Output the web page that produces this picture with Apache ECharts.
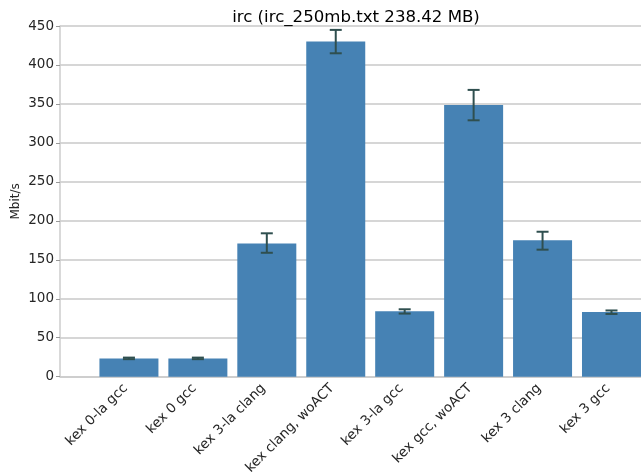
<!DOCTYPE html>
<html>
<head>
<meta charset="utf-8">
<script src="https://cdn.jsdelivr.net/npm/echarts@6/dist/echarts.min.js"></script>
<style>html,body{margin:0;padding:0;background:#fff}#c{width:641px;height:474px}</style>
</head>
<body>
<div id="c"></div>
<script>
const categories = ["kex 0-la gcc", "kex 0 gcc", "kex 3-la clang", "kex clang, woACT", "kex 3-la gcc", "kex gcc, woACT", "kex 3 clang", "kex 3 gcc"];
const values = [23.5, 23.5, 171, 430, 84, 348.5, 175, 83];
const errLow = [22.5, 22.5, 159, 415, 81, 329, 163, 80.5];
const errHigh = [24.5, 24.5, 184, 445, 86.5, 368, 186, 85];
const yTicks = [0, 50, 100, 150, 200, 250, 300, 350, 400, 450];

const font = 'DejaVu Sans';
const chart = echarts.init(document.getElementById('c'), null, {renderer: 'canvas'});
chart.setOption({
  animation: false,
  backgroundColor: '#fff',
  title: {
    text: 'irc (irc_250mb.txt 238.42 MB)',
    left: 351, top: 4, textAlign: 'center',
    textStyle: {fontFamily: font, fontSize: 16.6, fontWeight: 'normal', color: '#000'}
  },
  grid: {left: 60, right: 0, top: 26, bottom: 97.3, containLabel: false, outerBoundsMode: 'none'},
  xAxis: {
    type: 'value', min: -1, max: 7.428, interval: 1,
    axisLine: {show: true, onZero: false, lineStyle: {color: '#cccccc', width: 1.5}},
    axisTick: {show: false}, splitLine: {show: false},
    axisLabel: {rotate: 45, margin: 6, padding: [0, 5, 0, 0], fontFamily: font, fontSize: 13.5, color: '#262626',
                showMaxLabel: false, showMinLabel: false, hideOverlap: false,
                formatter: v => (Number.isInteger(v) && v >= 0 && v < categories.length) ? categories[v] : ''}
  },
  yAxis: {
    type: 'value', min: 0, max: 450, interval: 50,
    name: 'Mbit/s', nameLocation: 'middle', nameGap: 38, nameRotate: 90, nameMoveOverlap: false,
    nameTextStyle: {fontFamily: font, fontSize: 12, color: '#262626'},
    axisLine: {show: true, onZero: false, lineStyle: {color: '#cccccc', width: 1.5}},
    axisTick: {show: true, length: 4, lineStyle: {color: '#999999'}},
    axisLabel: {margin: 6, fontFamily: font, fontSize: 13.5, color: '#262626',
                formatter: v => yTicks.includes(v) ? String(v) : ''},
    splitLine: {show: true, lineStyle: {color: '#c8c8c8', width: 1.5}}
  },
  series: [
    {type: 'bar', data: values.map((v, i) => [i, v]), barWidth: 59,
     itemStyle: {color: '#4682b4'}, z: 3},
    {type: 'custom', z: 5,
     data: categories.map((c, i) => [i, errLow[i], errHigh[i]]),
     renderItem: function (params, api) {
       const lo = api.coord([api.value(0), api.value(1)]);
       const hi = api.coord([api.value(0), api.value(2)]);
       const hw = 6;
       const style = {stroke: '#2f4f4f', lineWidth: 2};
       return {type: 'group', children: [
         {type: 'line', shape: {x1: lo[0], y1: lo[1], x2: hi[0], y2: hi[1]}, style: style},
         {type: 'line', shape: {x1: lo[0] - hw, y1: lo[1], x2: lo[0] + hw, y2: lo[1]}, style: style},
         {type: 'line', shape: {x1: hi[0] - hw, y1: hi[1], x2: hi[0] + hw, y2: hi[1]}, style: style}
       ]};
     }}
  ]
});
</script>
</body>
</html>
